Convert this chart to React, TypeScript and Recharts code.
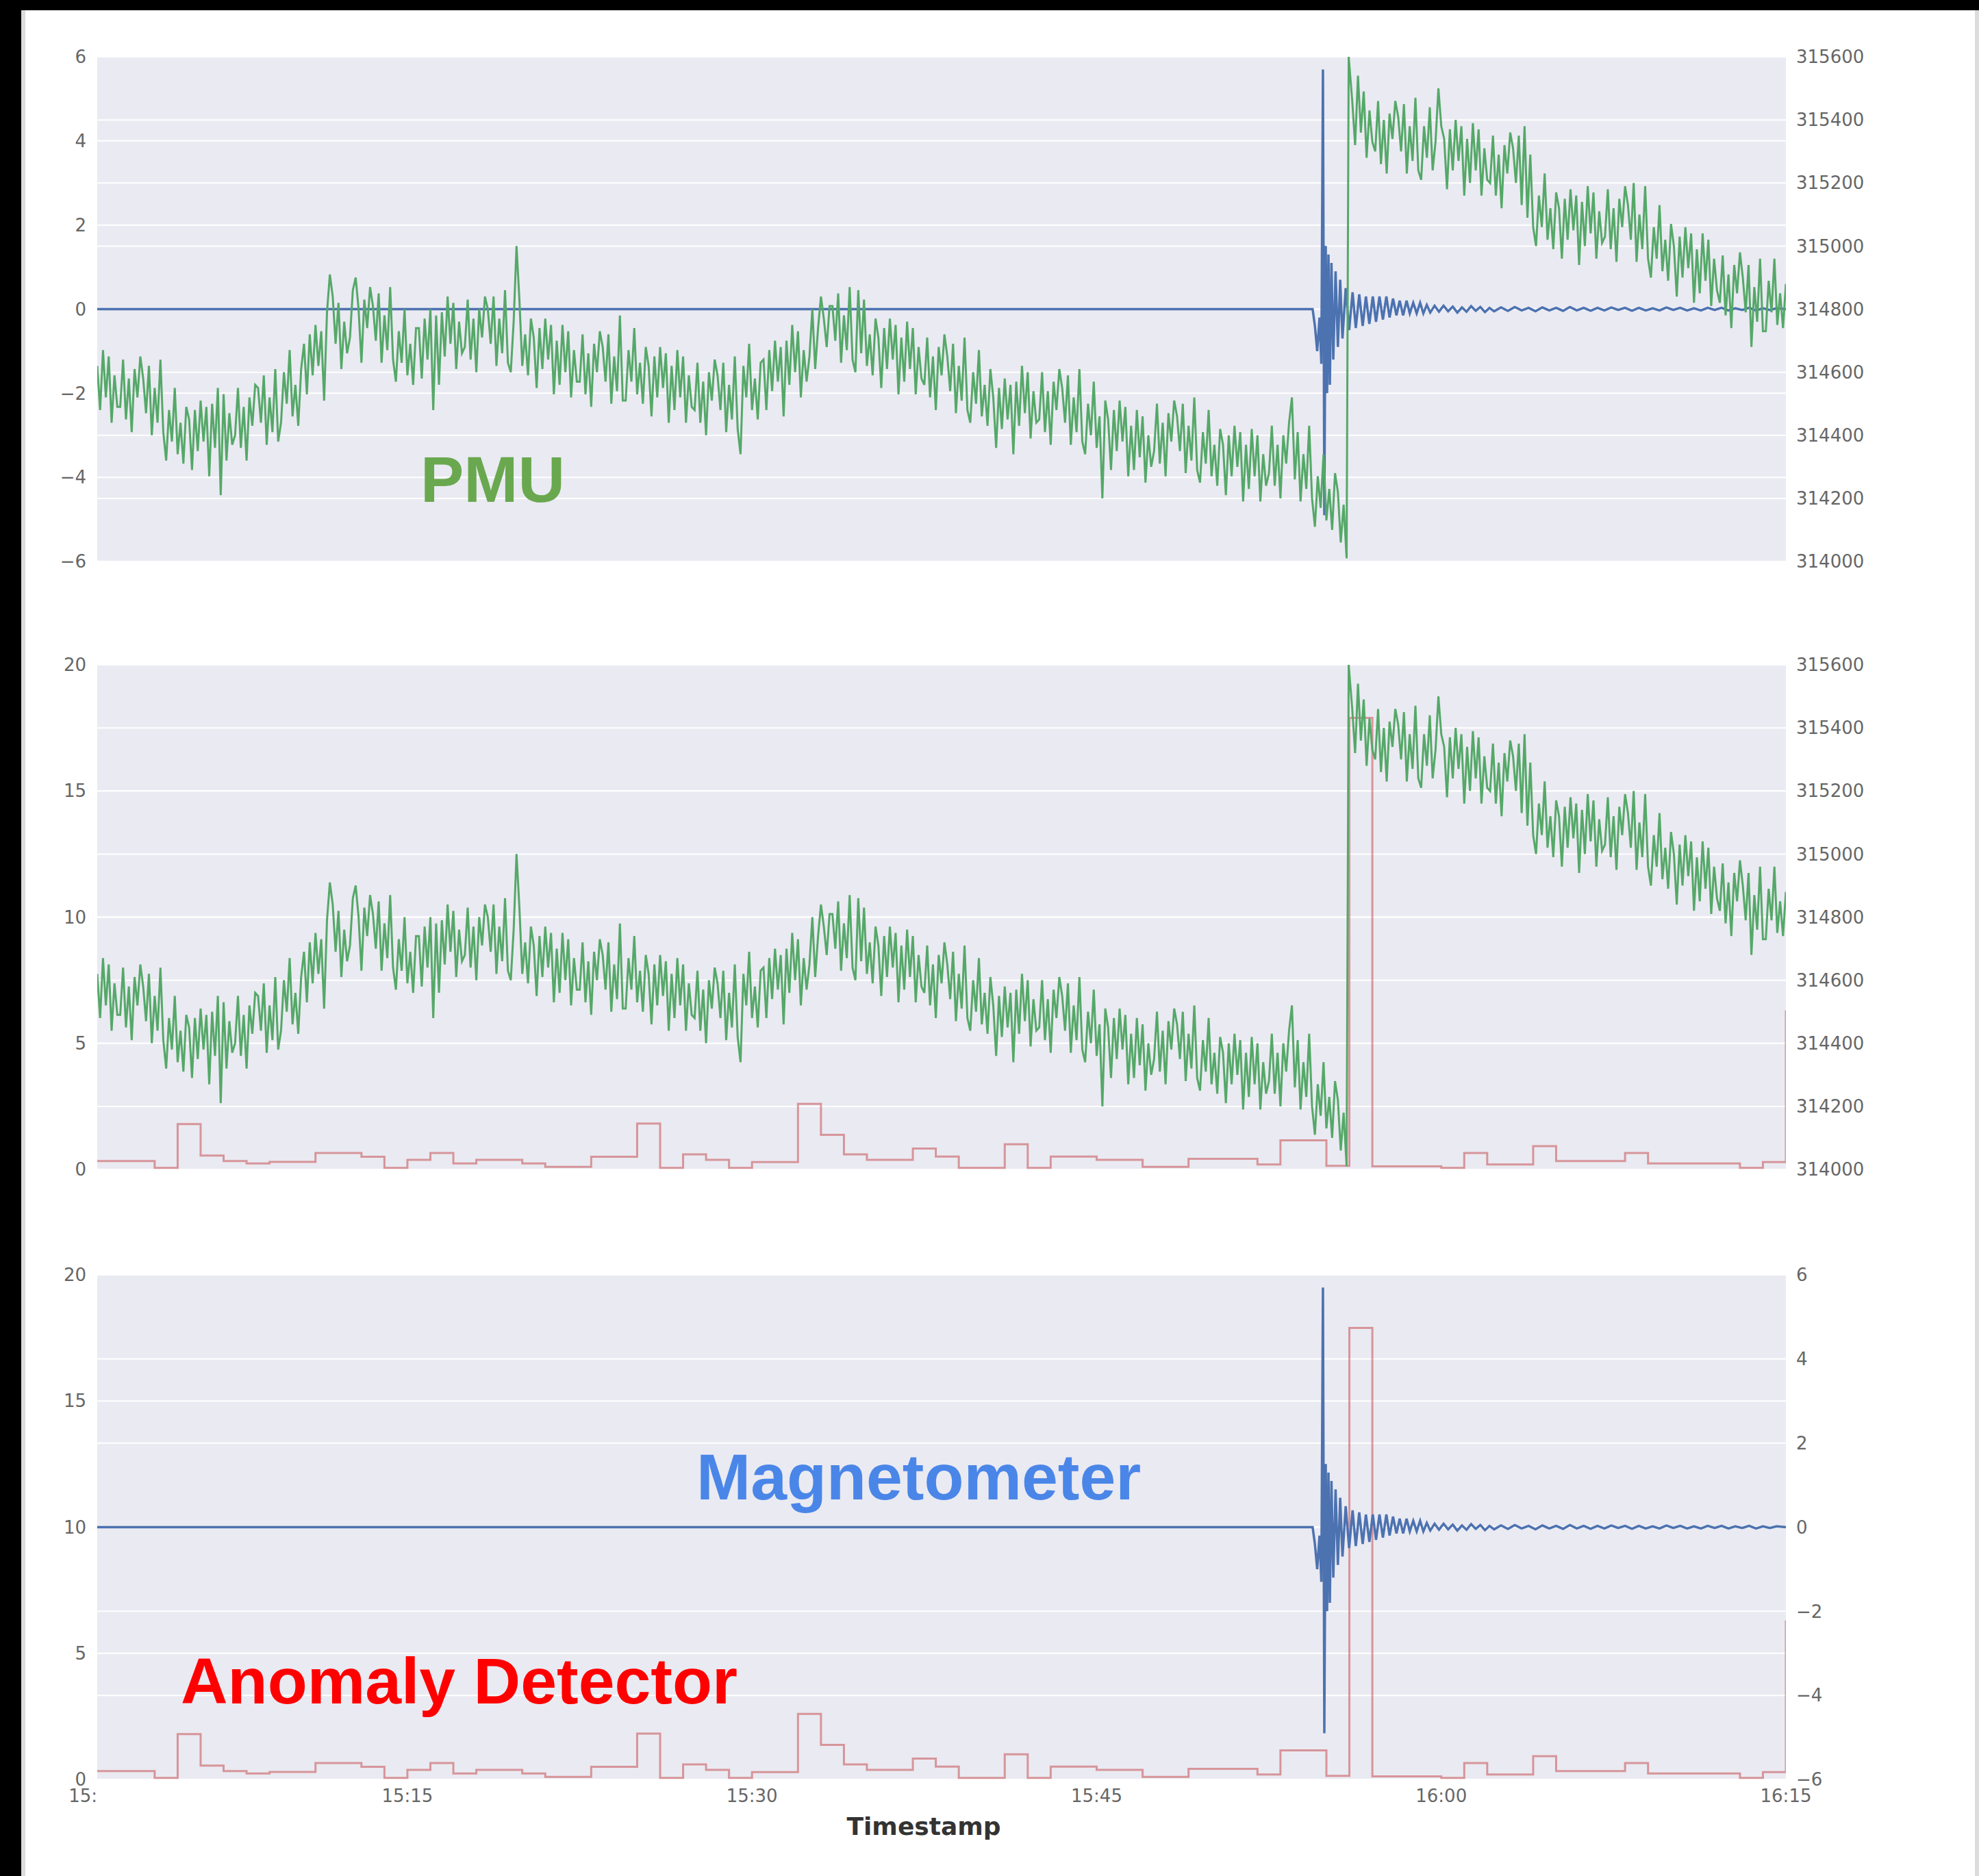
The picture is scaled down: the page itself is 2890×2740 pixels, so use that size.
import React from 'react';
import { ComposedChart, Line, XAxis, YAxis, CartesianGrid } from 'recharts';

// minutes after 15:00; the record starts at about 15:01:30
const timeDomain: [number, number] = [1.5, 75];
const timeTicks = [1.5, 15, 30, 45, 60, 75];
const timeLabels = ['15:', '15:15', '15:30', '15:45', '16:00', '16:15'];
const pmuTicks = [314000, 314200, 314400, 314600, 314800, 315000, 315200, 315400, 315600];
const magTicks = [-6, -4, -2, 0, 2, 4, 6];
const anomalyTicks = [0, 5, 10, 15, 20];

// PMU samples every 0.125 min, before and after the jump at ~15:56
const pmuStep = 0.125;
const pmuBeforeStart = 1.5;
const pmuBefore = [
  314620, 314480, 314670, 314520, 314650, 314440, 314590, 314490,
  314490, 314640, 314450, 314580, 314410, 314610, 314520, 314650,
  314580, 314470, 314620, 314400, 314550, 314440, 314640, 314410,
  314320, 314480, 314380, 314550, 314340, 314440, 314310, 314490,
  314450, 314290, 314480, 314350, 314510, 314380, 314490, 314270,
  314500, 314360, 314550, 314210, 314530, 314320, 314470, 314370,
  314400, 314550, 314360, 314490, 314320, 314520, 314430, 314560,
  314550, 314440, 314590, 314370, 314520, 314410, 314610, 314380,
  314440, 314600, 314500, 314670, 314460, 314560, 314430, 314610,
  314690, 314530, 314720, 314590, 314750, 314620, 314730, 314510,
  314790, 314910, 314840, 314690, 314820, 314610, 314760, 314660,
  314710, 314860, 314900, 314800, 314630, 314830, 314740, 314870,
  314810, 314700, 314850, 314630, 314780, 314670, 314870, 314640,
  314570, 314730, 314630, 314800, 314590, 314690, 314560, 314740,
  314740, 314580, 314770, 314640, 314800, 314480, 314780, 314560,
  314790, 314650, 314840, 314690, 314820, 314610, 314760, 314660,
  314680, 314830, 314640, 314770, 314600, 314800, 314710, 314840,
  314800, 314690, 314840, 314620, 314770, 314660, 314860, 314630,
  314600, 314760, 315000, 314830, 314620, 314720, 314590, 314770,
  314710, 314550, 314740, 314610, 314770, 314640, 314750, 314530,
  314700, 314560, 314750, 314600, 314730, 314520, 314670, 314570,
  314570, 314720, 314530, 314660, 314490, 314690, 314600, 314730,
  314680, 314570, 314720, 314500, 314650, 314540, 314780, 314510,
  314510, 314670, 314570, 314740, 314530, 314630, 314500, 314680,
  314620, 314460, 314650, 314520, 314680, 314550, 314660, 314440,
  314620, 314480, 314670, 314520, 314650, 314440, 314590, 314490,
  314480, 314630, 314440, 314570, 314400, 314600, 314510, 314640,
  314590, 314480, 314630, 314410, 314560, 314450, 314650, 314420,
  314340, 314620, 314520, 314690, 314480, 314580, 314450, 314630,
  314640, 314480, 314670, 314540, 314700, 314570, 314680, 314460,
  314700, 314560, 314750, 314600, 314730, 314520, 314670, 314570,
  314650, 314800, 314610, 314740, 314840, 314770, 314680, 314810,
  314810, 314700, 314850, 314630, 314780, 314670, 314870, 314640,
  314600, 314860, 314660, 314830, 314620, 314720, 314590, 314770,
  314710, 314550, 314740, 314610, 314770, 314640, 314750, 314530,
  314710, 314570, 314760, 314610, 314740, 314530, 314680, 314580,
  314560, 314710, 314520, 314650, 314480, 314680, 314590, 314720,
  314650, 314540, 314690, 314470, 314620, 314510, 314710, 314480,
  314440, 314600, 314500, 314670, 314460, 314560, 314430, 314610,
  314520, 314360, 314550, 314420, 314580, 314450, 314560, 314340,
  314570, 314430, 314620, 314470, 314600, 314390, 314540, 314440,
  314450, 314600, 314410, 314540, 314370, 314570, 314480, 314610,
  314550, 314440, 314590, 314370, 314520, 314410, 314610, 314380,
  314340, 314500, 314400, 314570, 314360, 314460, 314200, 314510,
  314450, 314290, 314480, 314350, 314510, 314380, 314490, 314270,
  314430, 314290, 314480, 314330, 314460, 314250, 314400, 314300,
  314350, 314500, 314310, 314440, 314270, 314470, 314380, 314510,
  314460, 314350, 314500, 314280, 314430, 314320, 314520, 314290,
  314250, 314410, 314310, 314480, 314270, 314370, 314240, 314420,
  314370, 314210, 314400, 314270, 314430, 314300, 314410, 314190,
  314370, 314230, 314420, 314270, 314400, 314190, 314340, 314240,
  314280, 314430, 314240, 314370, 314200, 314400, 314310, 314440,
  314520, 314260, 314410, 314190, 314340, 314230, 314430, 314200,
  314110, 314270, 314170, 314340, 314130, 314230, 314100, 314280,
  314220, 314060, 314180,
];
const pmuJump: [number, number][] = [
  [55.88, 314010],
  [55.97, 315600],
];
const pmuAfterStart = 56.125;
const pmuAfter = [
  315460, 315320, 315540, 315360, 315490, 315280, 315430, 315330,
  315300, 315460, 315260, 315400, 315230, 315420, 315340, 315460,
  315410, 315300, 315450, 315230, 315380, 315270, 315470, 315240,
  315210, 315380, 315280, 315440, 315240, 315330, 315500, 315380,
  315340, 315180, 315370, 315240, 315400, 315270, 315380, 315160,
  315340, 315200, 315390, 315240, 315370, 315160, 315310, 315210,
  315200, 315350, 315160, 315290, 315120, 315320, 315230, 315360,
  315310, 315200, 315350, 315130, 315380, 315090, 315290, 315060,
  315000, 315160, 315060, 315230, 315020, 315120, 314990, 315170,
  315120, 314960, 315150, 315020, 315180, 315050, 315160, 314940,
  315140, 315000, 315190, 315040, 315170, 314960, 315110, 315010,
  315030, 315180, 314990, 315120, 314950, 315150, 315060, 315190,
  315130, 315020, 315200, 314950, 315100, 314990, 315190, 314960,
  314900, 315060, 314960, 315130, 314920, 315020, 314890, 315070,
  315000, 314840, 315030, 314900, 315060, 314930, 315040, 314820,
  314990, 314850, 315040, 314890, 315020, 314810, 314960, 314860,
  314820, 314970, 314780, 314910, 314740, 314940, 314850, 314980,
  314900, 314790, 314940, 314680, 314870, 314760, 314960, 314730,
  314730, 314890, 314790, 314960, 314750, 314850, 314740, 314880,
];

const magnetometer: [number, number][] = [
  [1.5, 0], [54.4, 0], [54.5, -0.4], [54.6, -1.0], [54.7, -0.2], [54.78, -1.3],
  [54.85, 5.7], [54.91, -4.9], [54.97, 1.5], [55.03, -2.0], [55.09, 1.3], [55.15, -1.8],
  [55.22, 1.1], [55.3, -1.2], [55.4, 0.9], [55.5, -0.9], [55.6, 0.7], [55.7, -0.7],
  [55.84, 0.5], [55.99, -0.5], [56.14, 0.4], [56.28, -0.45], [56.43, 0.35], [56.58, -0.4],
  [56.72, 0.3], [56.87, -0.35], [57.02, 0.3], [57.16, -0.3], [57.31, 0.3], [57.46, -0.25],
  [57.61, 0.3], [57.75, -0.2], [57.9, 0.25], [58.05, -0.15], [58.19, 0.2], [58.34, -0.15],
  [58.49, 0.2], [58.63, -0.1], [58.78, 0.15], [58.93, -0.1], [59.08, 0.15], [59.22, -0.1],
  [59.37, 0.1], [59.52, -0.08], [59.71, 0.08], [59.9, -0.06], [60.1, 0.08], [60.3, -0.05],
  [60.5, 0.06], [60.7, -0.08], [60.9, 0.04], [61.1, -0.06], [61.3, 0.07], [61.5, -0.04],
  [61.7, 0.05], [61.9, -0.07], [62.1, 0.03], [62.3, -0.05], [62.6, 0.04], [62.9, -0.04],
  [63.2, 0.05], [63.5, -0.03], [63.8, 0.03], [64.1, -0.05], [64.4, 0.04], [64.7, -0.03],
  [65.0, 0.03], [65.3, -0.04], [65.6, 0.05], [65.9, -0.03], [66.2, 0.03], [66.5, -0.04],
  [66.8, 0.03], [67.1, -0.03], [67.4, 0.04], [67.7, -0.02], [68.0, 0.03], [68.3, -0.04],
  [68.6, 0.03], [68.9, -0.03], [69.2, 0.02], [69.5, -0.03], [69.8, 0.04], [70.1, -0.02],
  [70.4, 0.03], [70.7, -0.03], [71.0, 0.02], [71.3, -0.03], [71.6, 0.03], [71.9, -0.02],
  [72.2, 0.03], [72.5, -0.03], [72.8, 0.02], [73.1, -0.02], [73.4, 0.03], [73.7, -0.03],
  [74.0, 0.02], [74.3, -0.02], [74.6, 0.02], [75, 0],
];

// one anomaly score per minute
const anomaly: [number, number][] = [
  [1.5, 0.33], [4, 0.06], [5, 1.8], [6, 0.55], [7, 0.33], [8, 0.24], [9, 0.3],
  [11, 0.65], [13, 0.5], [14, 0.06], [15, 0.38], [16, 0.65], [17, 0.24], [18, 0.38],
  [20, 0.24], [21, 0.1], [23, 0.5], [25, 1.82], [26, 0.06], [27, 0.6], [28, 0.38],
  [29, 0.06], [30, 0.29], [32, 2.6], [33, 1.37], [34, 0.6], [35, 0.38], [37, 0.83],
  [38, 0.51], [39, 0.06], [41, 1.0], [42, 0.06], [43, 0.51], [45, 0.38], [47, 0.1],
  [49, 0.42], [52, 0.2], [53, 1.15], [55, 0.14], [56, 17.9], [57, 0.12], [60, 0.06],
  [61, 0.65], [62, 0.2], [64, 0.92], [65, 0.33], [68, 0.65], [69, 0.24], [73, 0.06],
  [74, 0.29], [75, 6.3],
];

const pmuData = [
  ...pmuBefore.map((v, i) => ({ t: pmuBeforeStart + i * pmuStep, v })),
  ...pmuJump.map(([t, v]) => ({ t, v })),
  ...pmuAfter.map((v, i) => ({ t: pmuAfterStart + i * pmuStep, v })),
];
const magData = magnetometer.map(([t, v]) => ({ t, v }));
const anomalyData = anomaly.map(([t, v]) => ({ t, v }));

const BLUE = '#4C72B0';
const GREEN = '#55A868';
const RED = '#C44E52';
const FONT = '"DejaVu Sans", sans-serif';
const tickStyle = { fontSize: 26, fill: '#666', fontFamily: FONT };

const W = 2890;
const PLOT_H = 737;
const margin = { top: 20, right: 122, left: 42, bottom: 20 };

const fmt = (v: number) => (v < 0 ? `\u2212${Math.abs(v)}` : `${v}`);

const TimeTick = (props: any) => {
  const { x, y, payload } = props;
  const i = timeTicks.indexOf(payload.value);
  return (
    <text
      x={x}
      y={y}
      dy="0.71em"
      textAnchor={i === 0 ? 'end' : 'middle'}
      style={tickStyle}
      fill="#666"
    >
      {timeLabels[i]}
    </text>
  );
};

const Panel = ({
  top,
  height,
  leftTicks,
  rightTicks,
  showX,
  children,
}: {
  top: number;
  height: number;
  leftTicks: number[];
  rightTicks: number[];
  showX: boolean;
  children: React.ReactNode;
}) => (
  <div style={{ position: 'absolute', left: 0, top }}>
    <ComposedChart
      width={W}
      height={height}
      margin={showX ? { ...margin, bottom: 0 } : margin}
    >
      <CartesianGrid
        yAxisId="left"
        vertical={false}
        stroke="#fff"
        strokeWidth={2}
        fill="#EAEAF2"
      />
      <CartesianGrid yAxisId="right" vertical={false} stroke="#fff" strokeWidth={2} />
      <XAxis
        type="number"
        dataKey="t"
        domain={timeDomain}
        ticks={timeTicks}
        hide={!showX}
        height={showX ? 100 : 0}
        axisLine={false}
        tickLine={false}
        tickSize={0}
        tickMargin={15}
        tick={<TimeTick />}
        allowDataOverflow
      />
      <YAxis
        yAxisId="left"
        orientation="left"
        width={100}
        domain={[leftTicks[0], leftTicks[leftTicks.length - 1]]}
        ticks={leftTicks}
        axisLine={false}
        tickLine={false}
        tickSize={0}
        tickMargin={16}
        tickFormatter={fmt}
        tick={tickStyle}
        allowDataOverflow
      />
      <YAxis
        yAxisId="right"
        orientation="right"
        width={160}
        domain={[rightTicks[0], rightTicks[rightTicks.length - 1]]}
        ticks={rightTicks}
        axisLine={false}
        tickLine={false}
        tickSize={0}
        tickMargin={15}
        tickFormatter={fmt}
        tick={tickStyle}
        allowDataOverflow
      />
      {children}
    </ComposedChart>
  </div>
);

export default function App() {
  const h = PLOT_H + margin.top + margin.bottom;
  return (
    <div
      style={{
        position: 'absolute',
        left: 0,
        top: 0,
        width: W,
        height: 2740,
        background: '#fff',
        overflow: 'hidden',
      }}
    >
      <div style={{ position: 'absolute', left: 0, top: 0, width: W, height: 15, background: '#000' }} />
      <div style={{ position: 'absolute', left: 0, top: 0, width: 31, height: 2740, background: '#000' }} />
      <div style={{ position: 'absolute', left: 31, top: 15, width: 6, height: 2725, background: '#dcdcdc' }} />
      <div style={{ position: 'absolute', left: 2884, top: 15, width: 6, height: 2725, background: '#dcdcdc' }} />

      <Panel top={63} height={h} leftTicks={magTicks} rightTicks={pmuTicks} showX={false}>
        <Line
          yAxisId="left"
          data={magData}
          dataKey="v"
          stroke={BLUE}
          strokeWidth={3.5}
          dot={false}
          isAnimationActive={false}
        />
        <Line
          yAxisId="right"
          data={pmuData}
          dataKey="v"
          stroke={GREEN}
          strokeWidth={3}
          dot={false}
          isAnimationActive={false}
        />
      </Panel>

      <Panel top={951} height={h} leftTicks={anomalyTicks} rightTicks={pmuTicks} showX={false}>
        <Line
          yAxisId="left"
          type="stepAfter"
          data={anomalyData}
          dataKey="v"
          stroke={RED}
          strokeOpacity={0.55}
          strokeWidth={3}
          dot={false}
          isAnimationActive={false}
        />
        <Line
          yAxisId="right"
          data={pmuData}
          dataKey="v"
          stroke={GREEN}
          strokeWidth={3}
          dot={false}
          isAnimationActive={false}
        />
      </Panel>

      <Panel
        top={1842}
        height={PLOT_H + margin.top + 100}
        leftTicks={anomalyTicks}
        rightTicks={magTicks}
        showX
      >
        <Line
          yAxisId="left"
          type="stepAfter"
          data={anomalyData}
          dataKey="v"
          stroke={RED}
          strokeOpacity={0.55}
          strokeWidth={3}
          dot={false}
          isAnimationActive={false}
        />
        <Line
          yAxisId="right"
          data={magData}
          dataKey="v"
          stroke={BLUE}
          strokeWidth={3.5}
          dot={false}
          isAnimationActive={false}
        />
      </Panel>

      <svg
        width={W}
        height={2740}
        style={{ position: 'absolute', left: 0, top: 0, pointerEvents: 'none' }}
      >
        <g fontFamily='"Liberation Sans", Arial, sans-serif' fontWeight="bold" fontSize={95}>
          <text x={614} y={733} fill="#6aa84f">PMU</text>
          <text x={1017} y={2190} fill="#4a86e8">Magnetometer</text>
          <text x={264} y={2488} fill="#ff0000">Anomaly Detector</text>
        </g>
        <text
          x={1349}
          y={2680}
          textAnchor="middle"
          fontFamily={FONT}
          fontWeight="bold"
          fontSize={36}
          fill="#333"
        >
          Timestamp
        </text>
      </svg>
    </div>
  );
}
